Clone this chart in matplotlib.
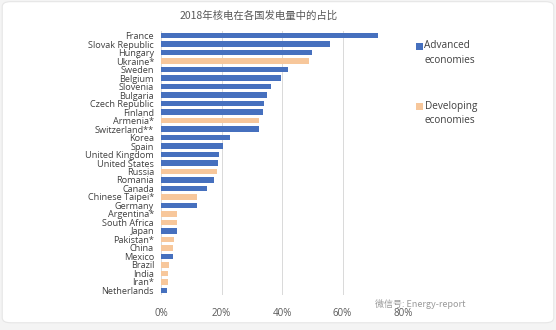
import matplotlib
matplotlib.use("Agg")
import matplotlib.pyplot as plt
from matplotlib.patches import Rectangle, FancyBboxPatch

plt.rcParams["font.family"] = ["Open Sans", "DejaVu Sans", "Noto Sans CJK SC"]

# ---------- data ---------------------------------------------------------
countries = [
    "France", "Slovak Republic", "Hungary", "Ukraine*", "Sweden", "Belgium",
    "Slovenia", "Bulgaria", "Czech Republic", "Finland", "Armenia*",
    "Switzerland**", "Korea", "Spain", "United Kingdom", "United States",
    "Russia", "Romania", "Canada", "Chinese Taipei*", "Germany",
    "Argentina*", "South Africa", "Japan", "Pakistan*", "China", "Mexico",
    "Brazil", "India", "Iran*", "Netherlands",
]
share = [
    71.7, 55.7, 49.8, 49.0, 42.1, 39.7,
    36.3, 34.9, 34.0, 33.6, 32.5,
    32.3, 22.8, 20.6, 19.3, 19.0,
    18.4, 17.5, 15.1, 12.0, 11.8,
    5.3, 5.2, 5.3, 4.3, 4.1, 4.1,
    2.6, 2.4, 2.3, 1.9,
]
group = [
    "A", "A", "A", "D", "A", "A",
    "A", "A", "A", "A", "D",
    "A", "A", "A", "A", "A",
    "D", "A", "A", "D", "A",
    "D", "D", "A", "D", "D", "A",
    "D", "D", "D", "A",
]
x_ticks = [0, 20, 40, 60, 80]
x_tick_labels = ["0%", "20%", "40%", "60%", "80%"]
title = "2018年核电在各国发电量中的占比"
legend_labels = ["Advanced\neconomies", "Developing\neconomies"]

blue = "#4670BE"
orange = "#F7C79B"
colors = [blue if g == "A" else orange for g in group]

# ---------- plot ---------------------------------------------------------
W, H = 556, 330
fig = plt.figure(figsize=(W / 100, H / 100), dpi=100)
fig.patch.set_facecolor("#f4f4f4")
card = FancyBboxPatch((0.004, 0.022), 0.992, 0.973,
                      boxstyle="round,pad=0,rounding_size=0.015",
                      transform=fig.transFigure, facecolor="white",
                      edgecolor="#e6e6e6", linewidth=0.8, zorder=-5)
fig.patches.append(card)

n = len(countries)
ax = fig.add_axes([0.2896, 0.106, 0.4353, 0.8])
ax.set_zorder(2)
ax.set_facecolor("none")
ax.barh(range(n), share, height=0.65, color=colors, zorder=3)
ax.set_ylim(n - 0.5 + 0.05, -0.55)
ax.set_xlim(0, 80)
ax.set_yticks(range(n))
ax.set_yticklabels(countries, fontsize=6.6, color="#404040")
ax.set_xticks(x_ticks)
ax.set_xticklabels(x_tick_labels, fontsize=7, color="#595959")
ax.tick_params(axis="both", length=0)
ax.tick_params(axis="x", pad=9)
ax.tick_params(axis="y", pad=5)
ax.grid(axis="x", color="#d9d9d9", linewidth=0.7, zorder=0)
for s in ax.spines.values():
    s.set_visible(False)

fig.text(0.465, 0.952, title, ha="center", va="center", fontsize=7.5,
         color="#595959", style="italic",
         family=["Noto Sans CJK SC", "DejaVu Sans"])

# legend: square aligned to the first line of each two-line label
for label, col, ytop in zip(legend_labels, [blue, orange], [43, 103]):
    fig.patches.append(Rectangle((416 / W, 1 - (ytop + 6.5) / H), 7 / W, 6.5 / H,
                                 transform=fig.transFigure, facecolor=col,
                                 edgecolor="none"))
    fig.text(424.5 / W, 1 - (ytop - 2.5) / H, label, ha="left", va="top",
             fontsize=7.2, color="#404040", linespacing=1.45)

fig.text(0.675, 0.08, "微信号: Energy-report", ha="left", va="center",
         fontsize=6.5, color="#9a9a9a",
         family=["Noto Sans CJK SC", "DejaVu Sans"])

fig.savefig("out.png", dpi=100, facecolor=fig.get_facecolor())
